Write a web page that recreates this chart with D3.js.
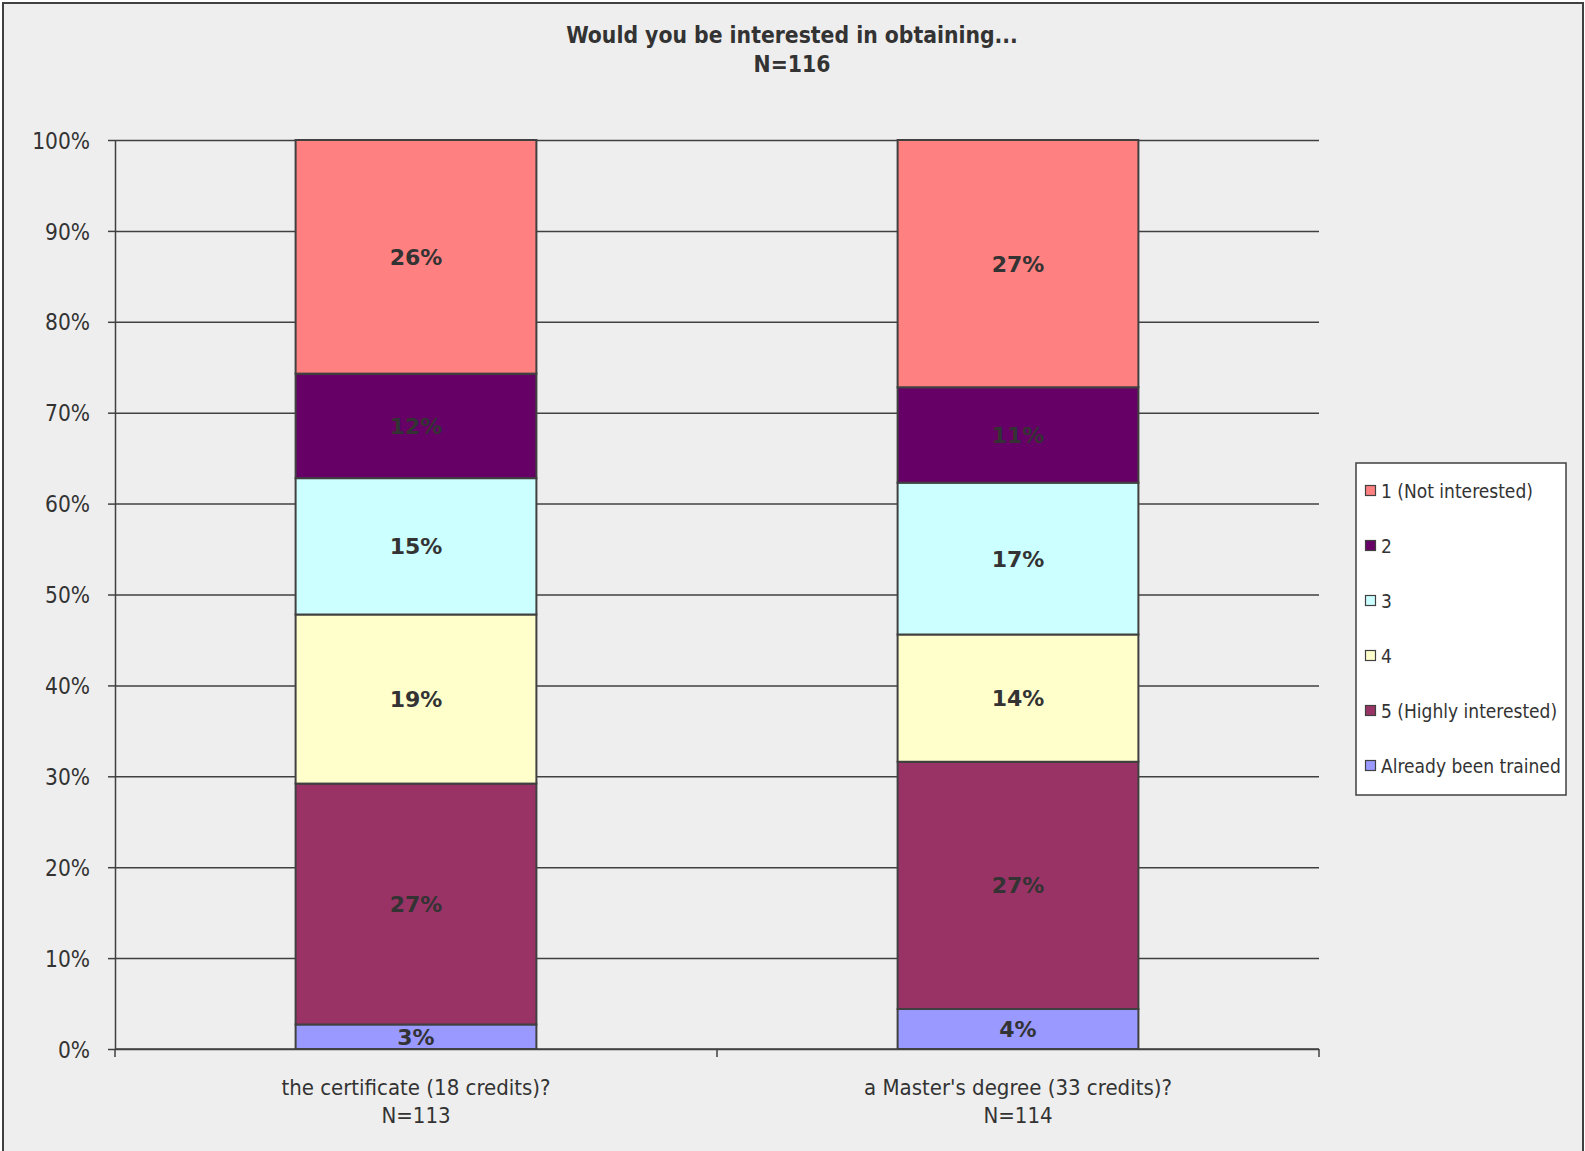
<!doctype html>
<html lang="en">
	<head>
		<meta charset="UTF-8">
		<title>Would you be interested in obtaining...</title>
		<style>
			body {
				margin: 0;
				background-color: #ffffff;
			}
			svg text {
				font-family: "DejaVu Sans Condensed", "DejaVu Sans", sans-serif;
				fill: #333333;
			}
			svg text.value-label {
				font-family: "DejaVu Sans", sans-serif;
			}
			.bar-seg {
				stroke: #404040;
				stroke-width: 2;
			}
			.grid line {
				stroke: #404040;
				stroke-width: 1.5;
			}
		</style>
	</head>
	<body>
		<svg class="chart"></svg>

		<script src="https://d3js.org/d3.v7.min.js"></script>
		<script>

			// Data Set (percent of respondents, stacked from bottom to top)
			var categories = ["the certificate (18 credits)?", "a Master's degree (33 credits)?"];
			var categoryN = ["N=113", "N=114"];
			var seriesNames = ["Already been trained", "5 (Highly interested)", "4", "3", "2", "1 (Not interested)"];
			var alreadyTrained = [2.7, 4.4];
			var highly5 = [26.5, 27.2];
			var level4 = [18.6, 14.0];
			var level3 = [15.0, 16.7];
			var level2 = [11.5, 10.5];
			var notInterested1 = [25.7, 27.2];
			var seriesColors = ["#9999ff", "#993366", "#ffffcc", "#ccffff", "#660066", "#ff8080"];
			var yTicks = [0, 10, 20, 30, 40, 50, 60, 70, 80, 90, 100];

			var seriesValues = [alreadyTrained, highly5, level4, level3, level2, notInterested1];

			// table for d3.stack
			var table = categories.map(function(c, i) {
				var row = {category: c};
				seriesNames.forEach(function(s, j) {
					row[s] = seriesValues[j][i];
				});
				return row;
			});

			var svgWidth = 1585, svgHeight = 1151;
			var plotLeft = 115, plotRight = 1319, plotTop = 140, plotBottom = 1049;

			var svg = d3.select("svg")
				.attr("width", svgWidth)
				.attr("height", svgHeight)
				.style("display", "block");

			// chart area background + border
			svg.append("rect")
				.attr("x", 3).attr("y", 3)
				.attr("width", 1580).attr("height", 1160)
				.attr("fill", "#eeeeee")
				.attr("stroke", "#404040")
				.attr("stroke-width", 2);

			var x = d3.scaleBand()
				.domain(categories)
				.range([plotLeft, plotRight])
				.paddingInner(0.6)
				.paddingOuter(0.3);

			var y = d3.scaleLinear()
				.domain([0, 100])
				.range([plotBottom, plotTop]);

			var color = d3.scaleOrdinal()
				.domain(seriesNames)
				.range(seriesColors);

			// gridlines
			svg.append("g")
				.attr("class", "grid")
				.attr("transform", "translate(" + plotLeft + ",0)")
				.call(d3.axisRight(y).tickValues(yTicks).tickSize(plotRight - plotLeft).tickFormat(""))
				.call(function(g) { g.select(".domain").remove(); });

			// y axis
			var yAxis = svg.append("g")
				.attr("transform", "translate(" + plotLeft + ",0)")
				.call(d3.axisLeft(y).tickValues(yTicks).tickSize(7).tickSizeOuter(0).tickPadding(18)
					.tickFormat(function(d) { return d + "%"; }));
			yAxis.select(".domain").attr("stroke", "#404040").attr("stroke-width", 1.5);
			yAxis.selectAll(".tick line").attr("stroke", "#404040").attr("stroke-width", 1.5);
			yAxis.selectAll("text")
				.attr("font-size", 22.5)
				.attr("dy", "0.36em")
				.style("fill", "#333333");

			// x axis line + ticks at category boundaries
			var xAxis = svg.append("g")
				.attr("transform", "translate(0," + plotBottom + ")");
			xAxis.append("line")
				.attr("x1", plotLeft).attr("x2", plotRight)
				.attr("stroke", "#404040").attr("stroke-width", 1.5);
			var bounds = d3.range(categories.length + 1).map(function(i) {
				return plotLeft + i * x.step();
			});
			xAxis.selectAll(".xtick")
				.data(bounds)
				.enter()
				.append("line")
				.attr("x1", function(d) { return d; })
				.attr("x2", function(d) { return d; })
				.attr("y1", 0).attr("y2", 8)
				.attr("stroke", "#404040").attr("stroke-width", 1.5);

			var catLabels = xAxis.selectAll(".cat")
				.data(categories)
				.enter()
				.append("text")
				.attr("text-anchor", "middle")
				.attr("font-size", 22)
				.attr("x", function(d) { return x(d) + x.bandwidth() / 2; });
			catLabels.append("tspan")
				.attr("x", function(d) { return x(d) + x.bandwidth() / 2; })
				.attr("y", 46)
				.text(function(d) { return d; });
			catLabels.append("tspan")
				.attr("x", function(d) { return x(d) + x.bandwidth() / 2; })
				.attr("y", 74)
				.text(function(d, i) { return categoryN[i]; });

			// stacked bars
			var stacked = d3.stack().keys(seriesNames)(table);

			var layers = svg.selectAll(".layer")
				.data(stacked)
				.enter()
				.append("g")
				.attr("class", "layer")
				.attr("fill", function(d) { return color(d.key); });

			layers.selectAll("rect")
				.data(function(d) { return d; })
				.enter()
				.append("rect")
				.attr("class", "bar-seg")
				.attr("x", function(d) { return x(d.data.category); })
				.attr("y", function(d) { return y(d[1]); })
				.attr("height", function(d) { return y(d[0]) - y(d[1]); })
				.attr("width", x.bandwidth());

			// value labels
			layers.selectAll("text")
				.data(function(d) { return d; })
				.enter()
				.append("text")
				.attr("class", "value-label")
				.attr("text-anchor", "middle")
				.attr("font-size", 22)
				.attr("font-weight", "bold")
				.attr("x", function(d) { return x(d.data.category) + x.bandwidth() / 2; })
				.attr("y", function(d) { return (y(d[0]) + y(d[1])) / 2; })
				.attr("dy", "0.36em")
				.text(function(d) { return d3.format(".0f")(d[1] - d[0]) + "%"; });

			// title
			var title = svg.append("text")
				.attr("text-anchor", "middle")
				.attr("font-size", 22.7)
				.attr("font-weight", "bold");
			title.append("tspan").attr("x", 792).attr("y", 43).text("Would you be interested in obtaining...");
			title.append("tspan").attr("x", 792).attr("y", 72).text("N=116");

			// legend
			var legend = svg.append("g").attr("transform", "translate(1356,463)");
			legend.append("rect")
				.attr("width", 210).attr("height", 332)
				.attr("fill", "#ffffff")
				.attr("stroke", "#404040")
				.attr("stroke-width", 1.5);

			var legendOrder = seriesNames.slice().reverse();
			var items = legend.selectAll(".item")
				.data(legendOrder)
				.enter()
				.append("g")
				.attr("transform", function(d, i) { return "translate(0," + (35 + i * 55) + ")"; });
			items.append("rect")
				.attr("x", 9.5).attr("y", -12.5)
				.attr("width", 10).attr("height", 10)
				.attr("fill", function(d) { return color(d); })
				.attr("stroke", "#404040")
				.attr("stroke-width", 1.2);
			items.append("text")
				.attr("x", 25)
				.attr("font-size", 19)
				.text(function(d) { return d; });

		</script>
	</body>
</html>
